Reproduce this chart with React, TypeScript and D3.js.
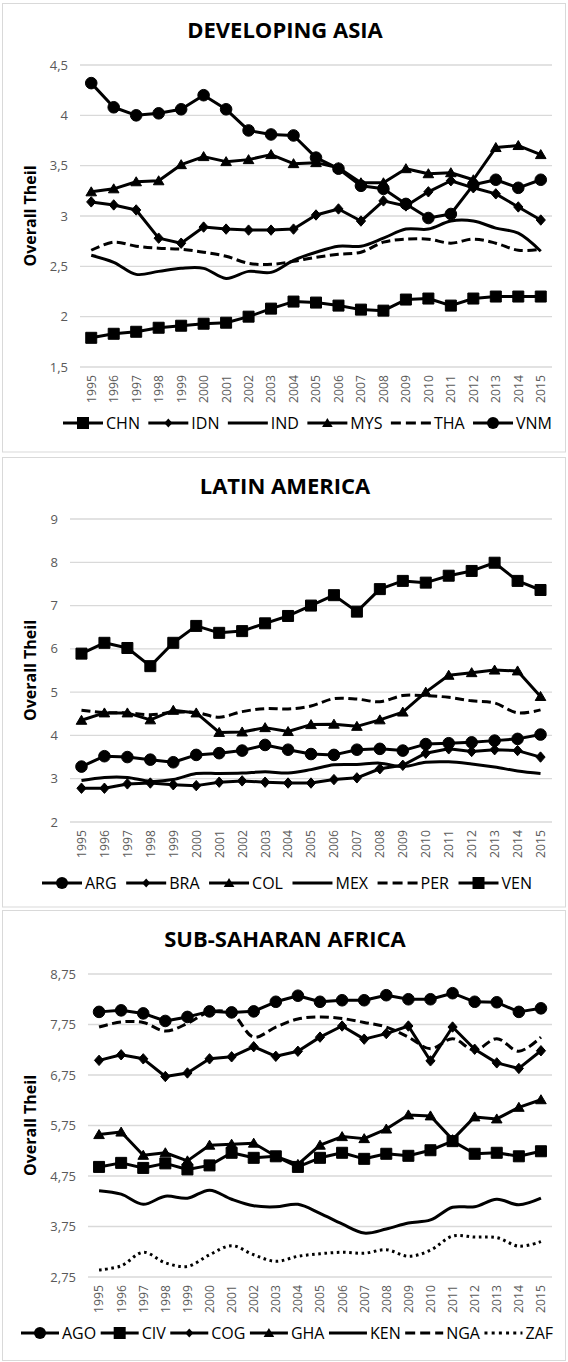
import React, { useEffect, useRef } from "react";
import * as d3 from "d3";

const years = ["1995","1996","1997","1998","1999","2000","2001","2002","2003","2004","2005","2006","2007","2008","2009","2010","2011","2012","2013","2014","2015"];

// Developing Asia
const asiaTicks = [1.5, 2, 2.5, 3, 3.5, 4, 4.5];
const asiaTickLabels = ["1,5", "2", "2,5", "3", "3,5", "4", "4,5"];
const CHN = [1.79,1.83,1.85,1.89,1.91,1.93,1.94,2.00,2.08,2.15,2.14,2.11,2.07,2.06,2.17,2.18,2.11,2.18,2.20,2.20,2.20];
const IDN = [3.14,3.11,3.06,2.78,2.73,2.89,2.87,2.86,2.86,2.87,3.01,3.07,2.95,3.15,3.10,3.24,3.35,3.28,3.22,3.09,2.96];
const IND = [2.61,2.54,2.42,2.45,2.48,2.48,2.38,2.45,2.44,2.56,2.64,2.70,2.70,2.78,2.87,2.87,2.95,2.95,2.88,2.83,2.65];
const MYS = [3.24,3.27,3.34,3.35,3.51,3.59,3.54,3.56,3.61,3.52,3.53,3.48,3.33,3.33,3.47,3.42,3.43,3.36,3.68,3.70,3.61];
const THA = [2.66,2.74,2.70,2.68,2.67,2.64,2.60,2.53,2.52,2.55,2.59,2.62,2.64,2.74,2.77,2.77,2.73,2.77,2.73,2.66,2.67];
const VNM = [4.32,4.08,4.00,4.02,4.06,4.20,4.06,3.85,3.81,3.80,3.58,3.47,3.30,3.27,3.12,2.98,3.02,3.31,3.36,3.28,3.36];

// Latin America
const latamTicks = [2, 3, 4, 5, 6, 7, 8, 9];
const latamTickLabels = ["2", "3", "4", "5", "6", "7", "8", "9"];
const ARG = [3.28,3.52,3.50,3.44,3.38,3.55,3.59,3.65,3.78,3.67,3.57,3.55,3.67,3.69,3.65,3.80,3.82,3.84,3.88,3.92,4.02];
const BRA = [2.78,2.78,2.88,2.90,2.86,2.84,2.92,2.95,2.92,2.90,2.90,2.98,3.02,3.23,3.31,3.59,3.69,3.63,3.67,3.65,3.50];
const COL = [4.35,4.52,4.52,4.36,4.58,4.52,4.07,4.08,4.18,4.09,4.25,4.26,4.21,4.36,4.54,5.00,5.39,5.45,5.51,5.49,4.90];
const MEX = [2.96,3.03,3.03,2.94,2.98,3.12,3.12,3.13,3.16,3.13,3.21,3.32,3.33,3.36,3.28,3.38,3.39,3.34,3.27,3.18,3.12];
const PER = [4.58,4.53,4.52,4.48,4.53,4.53,4.42,4.55,4.62,4.61,4.68,4.85,4.84,4.78,4.92,4.92,4.88,4.80,4.75,4.52,4.59];
const VEN = [5.89,6.14,6.02,5.60,6.14,6.53,6.37,6.41,6.59,6.76,7.00,7.24,6.86,7.38,7.57,7.53,7.69,7.80,7.99,7.57,7.36];

// Sub-Saharan Africa
const africaTicks = [2.75, 3.75, 4.75, 5.75, 6.75, 7.75, 8.75];
const africaTickLabels = ["2,75", "3,75", "4,75", "5,75", "6,75", "7,75", "8,75"];
const AGO = [8.00,8.03,7.97,7.82,7.90,8.01,7.99,8.01,8.20,8.32,8.20,8.23,8.23,8.33,8.25,8.25,8.37,8.20,8.19,8.00,8.07];
const CIV = [4.93,5.01,4.91,5.00,4.88,4.96,5.21,5.11,5.14,4.93,5.11,5.21,5.09,5.19,5.15,5.26,5.44,5.19,5.21,5.14,5.24];
const COG = [7.04,7.15,7.07,6.72,6.79,7.07,7.11,7.31,7.12,7.22,7.50,7.72,7.46,7.57,7.72,7.03,7.70,7.26,6.99,6.88,7.23];
const GHA = [5.57,5.62,5.16,5.21,5.05,5.36,5.38,5.40,5.14,4.98,5.36,5.53,5.49,5.68,5.96,5.94,5.47,5.92,5.88,6.11,6.26];
const KEN = [4.46,4.39,4.19,4.35,4.31,4.47,4.29,4.16,4.14,4.19,4.01,3.80,3.62,3.70,3.82,3.88,4.13,4.14,4.29,4.18,4.31];
const NGA = [7.70,7.80,7.79,7.62,7.77,8.00,7.97,7.50,7.70,7.86,7.90,7.87,7.79,7.70,7.50,7.27,7.47,7.24,7.47,7.22,7.50];
const ZAF = [2.89,2.97,3.24,3.03,2.96,3.19,3.37,3.19,3.06,3.16,3.21,3.24,3.22,3.29,3.16,3.28,3.56,3.54,3.53,3.36,3.45];

type Series = { name: string; values: number[]; marker: string; dash: string };

const panels = [
  {
    title: "DEVELOPING ASIA",
    ticks: asiaTicks, tickLabels: asiaTickLabels, domain: [1.5, 4.5],
    series: [
      { name: "CHN", values: CHN, marker: "square", dash: "solid" },
      { name: "IDN", values: IDN, marker: "diamond", dash: "solid" },
      { name: "IND", values: IND, marker: "none", dash: "solid" },
      { name: "MYS", values: MYS, marker: "triangle", dash: "solid" },
      { name: "THA", values: THA, marker: "none", dash: "dash" },
      { name: "VNM", values: VNM, marker: "circle", dash: "solid" },
    ] as Series[],
    box: [3.5, 452], plot: { l: 80, r: 552, t: 65, b: 367 }, titleY: 38,
    legendY: 423, legendX0: 63, legendX1: 552, lineLen: 40,
  },
  {
    title: "LATIN AMERICA",
    ticks: latamTicks, tickLabels: latamTickLabels, domain: [2, 9],
    series: [
      { name: "ARG", values: ARG, marker: "circle", dash: "solid" },
      { name: "BRA", values: BRA, marker: "diamond", dash: "solid" },
      { name: "COL", values: COL, marker: "triangle", dash: "solid" },
      { name: "MEX", values: MEX, marker: "none", dash: "solid" },
      { name: "PER", values: PER, marker: "none", dash: "dash" },
      { name: "VEN", values: VEN, marker: "square", dash: "solid" },
    ] as Series[],
    box: [457.5, 907], plot: { l: 70, r: 552, t: 519, b: 822 }, titleY: 494,
    legendY: 883, legendX0: 42, legendX1: 532, lineLen: 40,
  },
  {
    title: "SUB-SAHARAN AFRICA",
    ticks: africaTicks, tickLabels: africaTickLabels, domain: [2.75, 8.75],
    series: [
      { name: "AGO", values: AGO, marker: "circle", dash: "solid" },
      { name: "CIV", values: CIV, marker: "square", dash: "solid" },
      { name: "COG", values: COG, marker: "diamond", dash: "solid" },
      { name: "GHA", values: GHA, marker: "triangle", dash: "solid" },
      { name: "KEN", values: KEN, marker: "none", dash: "solid" },
      { name: "NGA", values: NGA, marker: "none", dash: "dash" },
      { name: "ZAF", values: ZAF, marker: "none", dash: "dot" },
    ] as Series[],
    box: [910.5, 1360.5], plot: { l: 88, r: 552, t: 974, b: 1277 }, titleY: 947,
    legendY: 1333, legendX0: 21, legendX1: 553, lineLen: 38,
  },
];

const FONT = "'Open Sans', 'Noto Sans', sans-serif";

function markerPath(kind: string, legend: boolean): string {
  switch (kind) {
    case "square": { const h = legend ? 6 : 5.5; return `M${-h},${-h}H${h}V${h}H${-h}Z`; }
    case "circle": { const r = legend ? 6 : 5.8; return `M${r},0A${r},${r} 0 1,1 ${-r},0A${r},${r} 0 1,1 ${r},0Z`; }
    case "diamond": { const w = legend ? 4 : 4.6, h = legend ? 4.5 : 5.2; return `M0,${-h}L${w},0L0,${h}L${-w},0Z`; }
    case "triangle": { const w = 5.3, h = 5; return `M0,${-h}L${w},${h * 0.8}L${-w},${h * 0.8}Z`; }
    default: return "";
  }
}

function dashArray(d: string): string | null {
  if (d === "dash") return "9,4.5";
  if (d === "dot") return "2.6,3.6";
  return null;
}

export default function App() {
  const ref = useRef<SVGSVGElement | null>(null);

  useEffect(() => {
    document.body.style.margin = "0";
    const svg = d3.select(ref.current);
    svg.selectAll("*").remove();

    panels.forEach((p) => {
      const g = svg.append("g");
      g.append("rect")
        .attr("x", 2.5).attr("y", p.box[0]).attr("width", 563).attr("height", p.box[1] - p.box[0])
        .attr("fill", "#fff").attr("stroke", "#d9d9d9").attr("stroke-width", 1);

      const x = d3.scalePoint<string>().domain(years).range([p.plot.l, p.plot.r]).padding(0.5);
      const y = d3.scaleLinear().domain(p.domain).range([p.plot.b, p.plot.t]);

      g.selectAll("line.grid").data(p.ticks).join("line")
        .attr("class", "grid")
        .attr("x1", p.plot.l).attr("x2", p.plot.r)
        .attr("y1", (d) => y(d)).attr("y2", (d) => y(d))
        .attr("stroke", "#d9d9d9").attr("stroke-width", 1.3);

      g.selectAll("text.ytick").data(p.ticks).join("text")
        .attr("class", "ytick")
        .attr("x", p.plot.l - 12).attr("y", (d) => y(d)).attr("dy", "0.35em")
        .attr("text-anchor", "end")
        .attr("font-family", FONT).attr("font-size", 13).attr("fill", "#595959")
        .text((d, i) => p.tickLabels[i]);

      g.selectAll("text.xtick").data(years).join("text")
        .attr("class", "xtick")
        .attr("transform", (d) => `translate(${x(d)},${p.plot.b + 8}) rotate(-90)`)
        .attr("text-anchor", "end").attr("dy", "0.36em")
        .attr("font-family", FONT).attr("font-size", 12.2).attr("fill", "#595959")
        .text((d) => d);

      g.append("text")
        .attr("x", 285).attr("y", p.titleY)
        .attr("text-anchor", "middle")
        .attr("font-family", FONT).attr("font-weight", 700).attr("font-size", 22).attr("fill", "#000")
        .text(p.title);

      g.append("text")
        .attr("transform", `translate(30,${(p.plot.t + p.plot.b) / 2}) rotate(-90)`)
        .attr("text-anchor", "middle").attr("dy", "0.35em")
        .attr("font-family", FONT).attr("font-weight", 700).attr("font-size", 16).attr("fill", "#000")
        .text("Overall Theil");

      p.series.forEach((s) => {
        const smooth = s.marker === "none";
        const line = d3.line<number>()
          .x((d, i) => x(years[i]) as number)
          .y((d) => y(d))
          .curve(smooth ? d3.curveCatmullRom.alpha(0.5) : d3.curveLinear);
        const path = g.append("path")
          .attr("d", line(s.values) as string)
          .attr("fill", "none").attr("stroke", "#000").attr("stroke-width", 3)
          .attr("stroke-linejoin", "round");
        const da = dashArray(s.dash);
        if (da) path.attr("stroke-dasharray", da);
        if (s.marker !== "none") {
          g.selectAll(null).data(s.values).join("path")
            .attr("transform", (d, i) => `translate(${x(years[i])},${y(d)})`)
            .attr("d", markerPath(s.marker, false))
            .attr("fill", "#000").attr("stroke", "#000").attr("stroke-width", 1);
        }
      });

      // legend: measure texts, then distribute so it spans legendX0..legendX1
      const lg = g.append("g");
      const L = p.lineLen;
      const items = p.series.map((s) => {
        const item = lg.append("g");
        const ln = item.append("line").attr("x1", 0).attr("x2", L).attr("y1", 0).attr("y2", 0)
          .attr("stroke", "#000").attr("stroke-width", 3);
        const da = dashArray(s.dash);
        if (da) ln.attr("stroke-dasharray", s.dash === "dash" ? "10,5" : "3,4.2");
        if (s.marker !== "none") {
          item.append("path").attr("transform", `translate(${L / 2},0)`)
            .attr("d", markerPath(s.marker, true)).attr("fill", "#000");
        }
        const t = item.append("text").attr("x", L + 3).attr("y", 0).attr("dy", "0.36em")
          .attr("font-family", FONT).attr("font-size", 16).attr("fill", "#000")
          .text(s.name);
        const w = (t.node() as SVGTextElement).getComputedTextLength();
        return { item, w: L + 3 + w };
      });
      const sumW = items.reduce((a, b) => a + b.w, 0);
      const gap = (p.legendX1 - p.legendX0 - sumW) / (items.length - 1);
      let cx = p.legendX0;
      items.forEach((it) => {
        it.item.attr("transform", `translate(${cx},${p.legendY})`);
        cx += it.w + gap;
      });
    });
  }, []);

  return (
    <svg ref={ref} width={568} height={1362}
      style={{ display: "block", position: "absolute", left: 0, top: 0, background: "#fff" }} />
  );
}
